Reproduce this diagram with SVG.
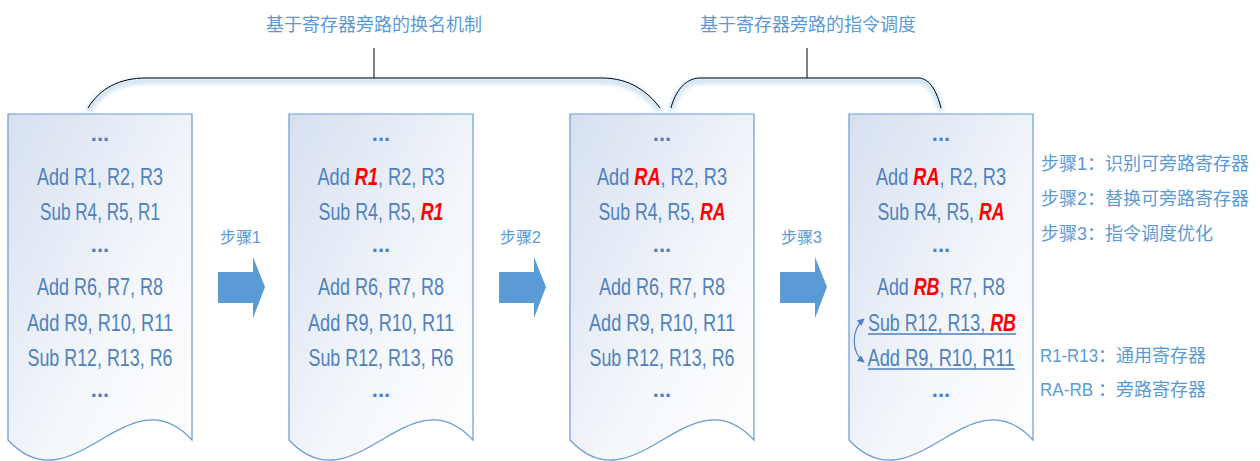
<svg xmlns="http://www.w3.org/2000/svg" width="1260" height="461" viewBox="0 0 1260 461">
<defs>
<linearGradient id="docfill" x1="0" y1="0" x2="1" y2="1">
<stop offset="0" stop-color="#d6e0f0"/>
<stop offset="0.6" stop-color="#f4f7fb"/>
<stop offset="1" stop-color="#ffffff"/>
</linearGradient>
<filter id="glow" x="-10%" y="-50%" width="120%" height="200%">
<feGaussianBlur stdDeviation="2.5"/>
</filter>
<marker id="ah" viewBox="0 0 10 10" refX="9" refY="5" markerWidth="6" markerHeight="6" orient="auto-start-reverse">
<path d="M0,0 L10,5 L0,10 z" fill="#4f81bd"/>
</marker>
<path id="docshape" d="M0,0 H184 V326 C120,256 65,396 0,326 Z"/>
<path id="blockarrow" d="M0,15 H35 V0 L47,30 L35,61 V46 H0 Z"/>
</defs>
<style>
.doc{fill:url(#docfill);stroke:#6b9bd2;stroke-width:1.2}
.code{font-family:"Liberation Sans",sans-serif;font-size:24px;fill:#4f81bd;text-anchor:middle}
.dots{font-family:"Liberation Sans",sans-serif;font-size:22px;font-weight:bold;fill:#4f81bd;text-anchor:middle}
.red{fill:#ff0000;font-weight:bold;font-style:italic}
.cjk{font-family:"Liberation Sans","Noto Sans CJK SC",sans-serif;fill:#5b9bd5}
.title{font-size:18px;text-anchor:middle}
.step{font-size:16px}
.legend{font-size:18px}
.arrow{fill:#5b9bd5}
.brace{fill:none;stroke:#000;stroke-width:1}
.braceglow{fill:none;stroke:#9dc3e6;stroke-width:4;opacity:0.7}
.ul{stroke:#4f81bd;stroke-width:1.5}
</style>

<g id="titles">
<text class="cjk title" x="374" y="31">基于寄存器旁路的换名机制</text>
<text class="cjk title" x="808" y="31">基于寄存器旁路的指令调度</text>
</g>

<g id="doc1">
<use href="#docshape" class="doc" transform="translate(8,114)"/>
<text class="dots" x="100" y="141">...</text>
<text class="code" x="100" y="185" textLength="126" lengthAdjust="spacingAndGlyphs">Add R1, R2, R3</text>
<text class="code" x="100" y="220" textLength="120" lengthAdjust="spacingAndGlyphs">Sub R4, R5, R1</text>
<text class="dots" x="100" y="252">...</text>
<text class="code" x="100" y="295" textLength="126" lengthAdjust="spacingAndGlyphs">Add R6, R7, R8</text>
<text class="code" x="100" y="331" textLength="146" lengthAdjust="spacingAndGlyphs">Add R9, R10, R11</text>
<text class="code" x="100" y="366" textLength="145" lengthAdjust="spacingAndGlyphs">Sub R12, R13, R6</text>
<text class="dots" x="100" y="397">...</text>
</g>

<g id="step1">
<text class="cjk step" x="220" y="243">步骤1</text>
<use href="#blockarrow" class="arrow" transform="translate(218,257)"/>
</g>

<g id="doc2">
<use href="#docshape" class="doc" transform="translate(289,114)"/>
<text class="dots" x="381" y="141">...</text>
<text class="code" x="381" y="185" textLength="127" lengthAdjust="spacingAndGlyphs">Add <tspan class="red">R1</tspan>, R2, R3</text>
<text class="code" x="381" y="220" textLength="125" lengthAdjust="spacingAndGlyphs">Sub R4, R5, <tspan class="red">R1</tspan></text>
<text class="dots" x="381" y="252">...</text>
<text class="code" x="381" y="295" textLength="126" lengthAdjust="spacingAndGlyphs">Add R6, R7, R8</text>
<text class="code" x="381" y="331" textLength="146" lengthAdjust="spacingAndGlyphs">Add R9, R10, R11</text>
<text class="code" x="381" y="366" textLength="145" lengthAdjust="spacingAndGlyphs">Sub R12, R13, R6</text>
<text class="dots" x="381" y="397">...</text>
</g>

<g id="step2">
<text class="cjk step" x="500" y="243">步骤2</text>
<use href="#blockarrow" class="arrow" transform="translate(499,257)"/>
</g>

<g id="doc3">
<use href="#docshape" class="doc" transform="translate(570,114)"/>
<text class="dots" x="662" y="141">...</text>
<text class="code" x="662" y="185" textLength="130" lengthAdjust="spacingAndGlyphs">Add <tspan class="red">RA</tspan>, R2, R3</text>
<text class="code" x="662" y="220" textLength="127" lengthAdjust="spacingAndGlyphs">Sub R4, R5, <tspan class="red">RA</tspan></text>
<text class="dots" x="662" y="252">...</text>
<text class="code" x="662" y="295" textLength="126" lengthAdjust="spacingAndGlyphs">Add R6, R7, R8</text>
<text class="code" x="662" y="331" textLength="146" lengthAdjust="spacingAndGlyphs">Add R9, R10, R11</text>
<text class="code" x="662" y="366" textLength="145" lengthAdjust="spacingAndGlyphs">Sub R12, R13, R6</text>
<text class="dots" x="662" y="397">...</text>
</g>

<g id="step3">
<text class="cjk step" x="781" y="243">步骤3</text>
<use href="#blockarrow" class="arrow" transform="translate(780,257)"/>
</g>

<g id="doc4">
<use href="#docshape" class="doc" transform="translate(849,114)"/>
<text class="dots" x="941" y="141">...</text>
<text class="code" x="941" y="185" textLength="130" lengthAdjust="spacingAndGlyphs">Add <tspan class="red">RA</tspan>, R2, R3</text>
<text class="code" x="941" y="220" textLength="127" lengthAdjust="spacingAndGlyphs">Sub R4, R5, <tspan class="red">RA</tspan></text>
<text class="dots" x="941" y="252">...</text>
<text class="code" x="941" y="295" textLength="128" lengthAdjust="spacingAndGlyphs">Add <tspan class="red">RB</tspan>, R7, R8</text>
<text class="code" x="942" y="331" textLength="148" lengthAdjust="spacingAndGlyphs">Sub R12, R13, <tspan class="red">RB</tspan></text>
<line class="ul" x1="868" y1="334" x2="1016" y2="334"/>
<text class="code" x="941" y="366" textLength="147" lengthAdjust="spacingAndGlyphs">Add R9, R10, R11</text>
<line class="ul" x1="868" y1="369" x2="1015" y2="369"/>
<text class="dots" x="941" y="397">...</text>
</g>

<g id="legend">
<text class="cjk legend" x="1041" y="170">步骤1：识别可旁路寄存器</text>
<text class="cjk legend" x="1041" y="205">步骤2：替换可旁路寄存器</text>
<text class="cjk legend" x="1041" y="240">步骤3：指令调度优化</text>
<text class="cjk legend" x="1040" y="362"><tspan textLength="58" lengthAdjust="spacingAndGlyphs">R1-R13</tspan>：通用寄存器</text>
<text class="cjk legend" x="1040" y="396"><tspan textLength="58" lengthAdjust="spacingAndGlyphs">RA-RB </tspan>：旁路寄存器</text>
</g>

<g id="connectors">
<g filter="url(#glow)" transform="translate(0,3)">
<path class="braceglow" d="M88,108 C100,88 120,78 146,78 L602,78 C630,78 648,92 660,108"/>
<path class="braceglow" d="M671,108 C675,92 685,78 700,78 L918,78 C930,78 937,92 941,108"/>
</g>
<path class="brace" d="M88,108 C100,88 120,78 146,78 L602,78 C630,78 648,92 660,108"/>
<line class="brace" x1="374" y1="48" x2="374" y2="78"/>
<path class="brace" d="M671,108 C675,92 685,78 700,78 L918,78 C930,78 937,92 941,108"/>
<line class="brace" x1="807" y1="48" x2="807" y2="78"/>
<path d="M864,319 C851,330 851,352 864,362" fill="none" stroke="#4f81bd" stroke-width="1.2" marker-start="url(#ah)" marker-end="url(#ah)"/>
</g>
</svg>
